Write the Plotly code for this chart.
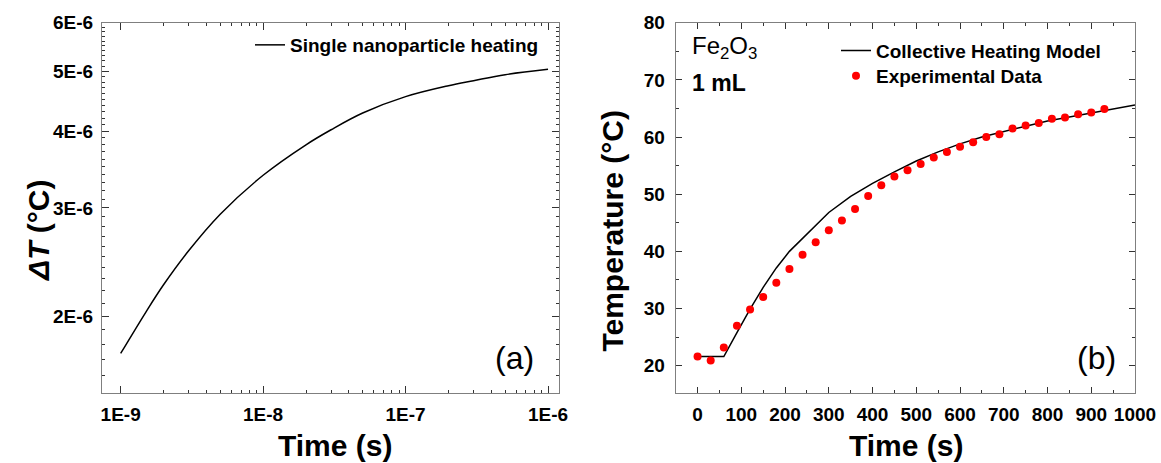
import plotly.graph_objects as go

# ---------------- data ----------------
# Panel (a): single nanoparticle heating (log-log)
single_time = [1e-9, 1.5e-9, 2e-9, 3e-9, 5e-9, 1e-8, 2e-8, 3e-8, 5e-8,
               1e-7, 2e-7, 3e-7, 5e-7, 1e-6]
single_dT = [1.74e-6, 2.03e-6, 2.25e-6, 2.555e-6, 2.93e-6, 3.39e-6, 3.80e-6,
             4.02e-6, 4.28e-6, 4.55e-6, 4.74e-6, 4.83e-6, 4.94e-6, 5.04e-6]

# Panel (b): collective heating model and experimental data
model_time = [0, 60, 90, 120, 150, 180, 210, 250, 300, 350, 400, 450, 500,
              550, 600, 650, 700, 750, 800, 850, 900, 950, 1000]
model_temp = [21.6, 21.6, 25.8, 29.9, 33.7, 37.1, 40.0, 43.1, 46.8, 49.6,
              51.9, 53.9, 55.8, 57.4, 58.8, 60.0, 61.0, 61.9, 62.8, 63.5,
              64.2, 64.9, 65.6]

exp_time = [0, 30, 60, 90, 120, 150, 180, 210, 240, 270, 300, 330, 360, 390,
            420, 450, 480, 510, 540, 570, 600, 630, 660, 690, 720, 750, 780,
            810, 840, 870, 900, 930]
exp_temp = [21.6, 20.9, 23.2, 27.0, 29.85, 32.0, 34.5, 36.9, 39.4, 41.6, 43.7,
            45.4, 47.4, 49.7, 51.55, 53.1, 54.2, 55.3, 56.4, 57.4, 58.3, 59.1,
            60.0, 60.5, 61.5, 62.0, 62.45, 63.2, 63.4, 64.0, 64.3, 64.9]

left_xticks = [1e-9, 1e-8, 1e-7, 1e-6]
left_xticktext = ["1E-9", "1E-8", "1E-7", "1E-6"]
left_yticks = [2e-6, 3e-6, 4e-6, 5e-6, 6e-6]
left_yticktext = ["2E-6", "3E-6", "4E-6", "5E-6", "6E-6"]
right_xticks = [0, 100, 200, 300, 400, 500, 600, 700, 800, 900, 1000]
right_yticks = [20, 30, 40, 50, 60, 70, 80]

# ---------------- figure ----------------
W, H = 1161, 463
FONT = "Liberation Sans, Arial, sans-serif"


def px_x(v):
    return v / W


def px_y(v):
    return 1 - v / H


fig = go.Figure()

fig.add_trace(go.Scatter(
    x=single_time, y=single_dT, mode="lines",
    line=dict(color="black", width=1.5, shape="spline"),
    name="Single nanoparticle heating", xaxis="x", yaxis="y", legend="legend"))

fig.add_trace(go.Scatter(
    x=model_time, y=model_temp, mode="lines", line=dict(color="black", width=1.5),
    name="Collective Heating Model", xaxis="x2", yaxis="y2", legend="legend2"))

fig.add_trace(go.Scatter(
    x=exp_time, y=exp_temp, mode="markers", marker=dict(color="#ff0000", size=8),
    name="Experimental Data", xaxis="x2", yaxis="y2", legend="legend3"))

# minor tick positions
left_xminor = [k * 10.0 ** e for e in (-9, -8, -7) for k in range(2, 10)]
left_yminor = [round(1.5 + 0.1 * i, 1) * 1e-6 for i in range(0, 46)]
left_yminor = [v for v in left_yminor if all(abs(v - t) > 1e-9 for t in left_yticks)]

tickfont = dict(family=FONT, size=19, color="black", weight="bold")
axcommon = dict(showline=True, linecolor="#7f7f7f", linewidth=1.2, mirror="ticks",
                ticks="inside", tickcolor="#333333", showgrid=False, zeroline=False,
                tickfont=tickfont, automargin=False)
legfont = dict(family=FONT, size=19, color="black", weight="bold")

fig.update_layout(
    width=W, height=H,
    margin=dict(l=0, r=0, t=0, b=0, autoexpand=False),
    paper_bgcolor="white", plot_bgcolor="white",
    font=dict(family=FONT, color="black"),
    xaxis=dict(domain=[px_x(102), px_x(559)], type="log", range=[-9.131, -5.923],
               tickmode="array", tickvals=left_xticks, ticktext=left_xticktext,
               ticklen=7, ticklabelstandoff=4, anchor="y",
               minor=dict(tickmode="array", tickvals=left_xminor, ticklen=3,
                          ticks="inside", tickcolor="#333333"),
               **axcommon),
    yaxis=dict(domain=[px_y(393.3), px_y(22.7)], type="log", range=[-5.8242, -5.2218],
               tickmode="array", tickvals=left_yticks, ticktext=left_yticktext,
               ticklen=7, ticklabelstandoff=4, anchor="x",
               minor=dict(tickmode="array", tickvals=left_yminor, ticklen=3,
                          ticks="inside", tickcolor="#333333"),
               **axcommon),
    xaxis2=dict(domain=[px_x(675.7), px_x(1135)], range=[-50, 1000],
                tickmode="array", tickvals=right_xticks, ticklen=6,
                ticklabelstandoff=4, anchor="y2",
                minor=dict(dtick=50, tick0=0, ticklen=3, ticks="inside", tickcolor="#333333"),
                **axcommon),
    yaxis2=dict(domain=[px_y(393.3), px_y(22.7)], range=[15.17, 80],
                tickmode="array", tickvals=right_yticks, ticklen=6,
                ticklabelstandoff=6, anchor="x2",
                minor=dict(dtick=5, tick0=0, ticklen=3, ticks="inside", tickcolor="#333333"),
                **axcommon),
    legend=dict(x=px_x(250), y=px_y(26), xanchor="left", yanchor="top",
                bgcolor="rgba(0,0,0,0)", borderwidth=0, font=legfont),
    legend2=dict(x=px_x(836), y=px_y(31.7), xanchor="left", yanchor="top",
                 bgcolor="rgba(0,0,0,0)", borderwidth=0, font=legfont),
    legend3=dict(x=px_x(836), y=px_y(57), xanchor="left", yanchor="top",
                 bgcolor="rgba(0,0,0,0)", borderwidth=0, font=legfont),
    showlegend=True,
)

ann = []


def add_text(text, x, y, size, bold=True, angle=0, xanchor="center"):
    f = dict(family=FONT, size=size, color="black")
    if bold:
        f["weight"] = "bold"
    ann.append(dict(text=text, x=px_x(x), y=px_y(y), xref="paper", yref="paper",
                    xanchor=xanchor, yanchor="middle", showarrow=False,
                    textangle=angle, font=f))


# axis titles
add_text("Time (s)", 334.5, 445, 30)
add_text("Time (s)", 906, 445, 30)
add_text("<i>ΔT</i> (°C)", 39, 231, 30, angle=-90)
add_text("Temperature (°C)", 612.6, 231, 30, angle=-90)
# panel labels
add_text("(a)", 514, 358, 32, bold=False)
add_text("(b)", 1096, 358, 32, bold=False)
# sample annotations
add_text("Fe<sub>2</sub>O<sub>3</sub>", 690, 48, 24, bold=False, xanchor="left")
add_text("1 mL", 690, 83.4, 23, xanchor="left")
fig.update_layout(annotations=ann)

fig.write_html("out.html", config={"displayModeBar": False},
               post_script="document.body.style.margin='0';")
